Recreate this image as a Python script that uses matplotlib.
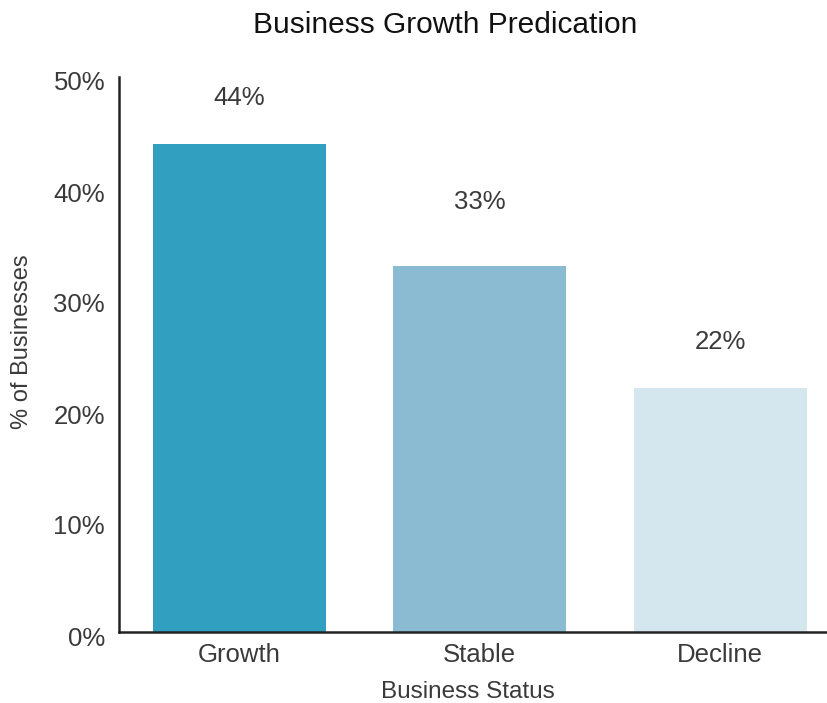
import matplotlib.pyplot as plt
from matplotlib.ticker import FuncFormatter
from matplotlib.transforms import ScaledTranslation

# survey results
statuses = ["Growth", "Stable", "Decline"]
shares = [44, 33, 22]
bar_colors = ["#319fbf", "#8abbd2", "#d4e6ee"]
label_gap = [4.1, 5.7, 4.1]

plt.rcParams["font.family"] = ["Liberation Sans", "DejaVu Sans"]
text_color = "#3a3a3a"

fig = plt.figure(figsize=(8.27, 7.03), dpi=100)
ax = fig.add_axes([119 / 827, 71 / 703, 721.5 / 827, 555 / 703])

x = range(len(statuses))
ax.bar(x, shares, width=0.72, color=bar_colors, zorder=1)

for xi, val, gap in zip(x, shares, label_gap):
    ax.text(xi, val + gap, f"{val}%", ha="center", va="center",
            fontsize=18.5, color=text_color)

ax.set_xlim(-0.5, 2.5)
ax.set_ylim(0, 50)
ax.set_yticks(range(0, 51, 10))
ax.yaxis.set_major_formatter(FuncFormatter(lambda v, _: f"{v:.0f}%"))
ax.set_xticks(list(x))
ax.set_xticklabels(statuses)

for side in ("top", "right"):
    ax.spines[side].set_visible(False)
for side in ("left", "bottom"):
    ax.spines[side].set_linewidth(1.8)
    ax.spines[side].set_color("#222222")
    ax.spines[side].set_zorder(3)

ax.tick_params(axis="both", length=0, labelsize=18.5, colors=text_color)
ax.tick_params(axis="y", pad=10)
ax.tick_params(axis="x", pad=8)
# nudge the y labels a little below their ticks
shift = ScaledTranslation(0, -4 / 100, fig.dpi_scale_trans)
for lab in ax.get_yticklabels():
    lab.set_verticalalignment("center_baseline")
    lab.set_transform(lab.get_transform() + shift)

fig.text(445 / 827, 1 - 25 / 703, "Business Growth Predication",
         ha="center", va="center", fontsize=21.5, color="#111111")
fig.text(468 / 827, 1 - 692 / 703, "Business Status",
         ha="center", va="center", fontsize=17.5, color=text_color)
fig.text(22 / 827, 1 - 342 / 703, "% of Businesses", rotation=90,
         ha="center", va="center", fontsize=17, color=text_color)

fig.savefig("out.png", dpi=100)
